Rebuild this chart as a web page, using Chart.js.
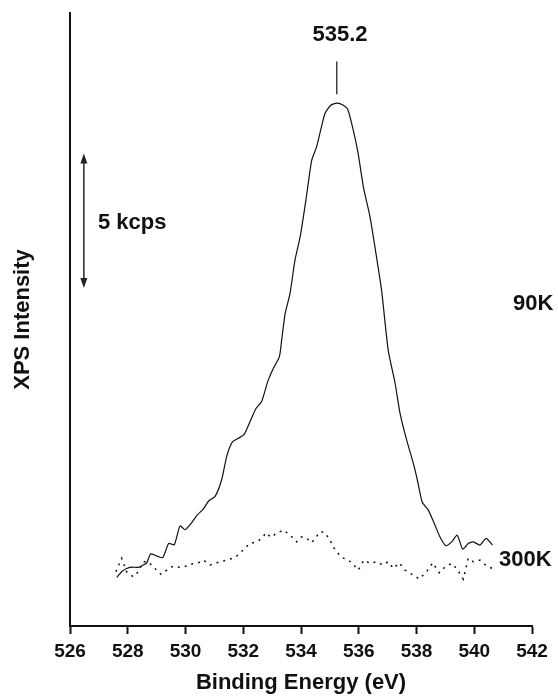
<!DOCTYPE html>
<html>
<head>
<meta charset="utf-8">
<script src="https://cdn.jsdelivr.net/npm/chart.js@4"></script>
<style>
    body { margin: 0; background: #fff; }
    canvas { display: block; }
</style>
</head>
<body>
<canvas id="myChart" width="558" height="698"></canvas>
<script>
// binding energy (eV) and intensity (kcps, arbitrary offset)
const energy90 = [527.62, 527.79, 527.96, 528.14, 528.37, 528.54, 528.66, 528.79, 529.00, 529.21,
    529.42, 529.61, 529.81, 529.99, 530.21, 530.41, 530.62, 530.81, 531.02, 531.25,
    531.43, 531.62, 531.83, 532.03, 532.23, 532.43, 532.64, 532.85, 533.04, 533.25,
    533.33, 533.45, 533.62, 533.79, 533.97, 534.17, 534.37, 534.54, 534.68, 534.83,
    535.03, 535.24, 535.44, 535.62, 535.81, 535.98, 536.16, 536.39, 536.56, 536.79,
    537.02, 537.26, 537.43, 537.66, 537.89, 538.03, 538.20, 538.41, 538.64, 538.81,
    539.01, 539.22, 539.41, 539.60, 539.79, 539.97, 540.20, 540.41, 540.63];
const counts90 = [1.81, 2.02, 2.14, 2.19, 2.18, 2.27, 2.35, 2.68, 2.61, 2.54,
    3.07, 3.02, 3.72, 3.58, 3.84, 4.13, 4.36, 4.66, 4.81, 5.43,
    6.32, 6.84, 6.98, 7.13, 7.59, 8.07, 8.36, 9.10, 9.58, 10.01,
    10.63, 11.62, 12.37, 13.60, 14.47, 15.84, 17.32, 17.82, 18.44, 19.06,
    19.37, 19.45, 19.39, 19.21, 18.44, 17.57, 16.33, 15.22, 14.10, 12.49,
    10.26, 9.02, 7.91, 6.91, 6.05, 5.43, 4.60, 4.31, 3.75, 3.32,
    2.99, 3.13, 3.38, 2.86, 3.07, 3.13, 3.01, 3.26, 3.01];

const energy300 = [527.59, 527.79, 527.96, 528.19, 528.37, 528.54, 528.71, 528.94, 529.15, 529.35,
    529.58, 529.81, 530.04, 530.27, 530.44, 530.62, 530.85, 531.08, 531.31, 531.54,
    531.77, 532.00, 532.23, 532.47, 532.64, 532.79, 532.95, 533.16, 533.39, 533.62,
    533.85, 534.02, 534.20, 534.37, 534.52, 534.66, 534.83, 535.00, 535.18, 535.41,
    535.64, 535.81, 535.98, 536.18, 536.39, 536.62, 536.83, 537.02, 537.20, 537.40,
    537.60, 537.83, 538.10, 538.35, 538.56, 538.79, 538.99, 539.22, 539.41, 539.62,
    539.79, 539.97, 540.20, 540.43, 540.63];
const counts300 = [2.02, 2.52, 2.02, 1.83, 2.02, 2.39, 2.39, 2.14, 1.92, 2.08,
    2.23, 2.18, 2.23, 2.33, 2.35, 2.45, 2.27, 2.35, 2.42, 2.48,
    2.60, 2.83, 3.07, 3.13, 3.26, 3.47, 3.30, 3.45, 3.57, 3.38,
    3.13, 3.32, 3.26, 3.10, 3.30, 3.51, 3.47, 3.20, 2.83, 2.55,
    2.45, 2.30, 2.08, 2.45, 2.33, 2.39, 2.27, 2.39, 2.14, 2.35,
    2.08, 1.93, 1.75, 2.02, 2.35, 1.98, 2.20, 2.33, 2.11, 1.74,
    2.52, 2.39, 2.45, 2.23, 2.14];

const xTicks = [526, 528, 530, 532, 534, 536, 538, 540, 542];

const peakEnergy = 535.2;
const scaleBar = 5; // kcps

const FONT = 'Liberation Sans, Arial, Helvetica, sans-serif';
const INK = '#111';

const annotations = {
    id: 'annotations',
    afterDraw(chart) {
        const { ctx, scales: { x, y } } = chart;
        ctx.save();
        ctx.fillStyle = INK;
        ctx.strokeStyle = INK;
        ctx.font = 'bold 22px ' + FONT;
        ctx.textBaseline = 'middle';

        // peak label + leader line
        const px = x.getPixelForValue(535.24);
        ctx.lineWidth = 1.2;
        ctx.beginPath();
        ctx.moveTo(px, y.getPixelForValue(21.0));
        ctx.lineTo(px, y.getPixelForValue(19.78));
        ctx.stroke();
        ctx.textAlign = 'center';
        ctx.fillText(peakEnergy.toFixed(1), x.getPixelForValue(535.35), y.getPixelForValue(22.0));

        // series labels
        ctx.textAlign = 'left';
        ctx.fillText('90K', x.getPixelForValue(541.34), y.getPixelForValue(11.97));
        ctx.fillText('300K', x.getPixelForValue(540.86), y.getPixelForValue(2.45));

        // scale bar
        const ax = x.getPixelForValue(526.48);
        const y0 = y.getPixelForValue(12.57);
        const y1 = y.getPixelForValue(12.57 + scaleBar);
        ctx.strokeStyle = '#333';
        ctx.fillStyle = '#222';
        ctx.lineWidth = 1.6;
        ctx.beginPath();
        ctx.moveTo(ax, y0 - 6);
        ctx.lineTo(ax, y1 + 6);
        ctx.stroke();
        ctx.beginPath();
        ctx.moveTo(ax, y1);
        ctx.lineTo(ax - 3.5, y1 + 10);
        ctx.lineTo(ax + 3.5, y1 + 10);
        ctx.closePath();
        ctx.fill();
        ctx.beginPath();
        ctx.moveTo(ax, y0);
        ctx.lineTo(ax - 3.5, y0 - 10);
        ctx.lineTo(ax + 3.5, y0 - 10);
        ctx.closePath();
        ctx.fill();

        ctx.fillStyle = INK;
        ctx.fillText(scaleBar + ' kcps', x.getPixelForValue(526.97), y.getPixelForValue(15.0));
        ctx.restore();
    }
};

var ctx = document.getElementById('myChart').getContext('2d');

var myChart = new Chart(ctx, { //eslint-disable-line
    type: 'line',
    data: {
        datasets: [
            {
                label: '90K',
                data: energy90.map((e, i) => ({ x: e, y: counts90[i] })),
                borderColor: INK,
                borderWidth: 1.2,
                pointRadius: 0,
                tension: 0.2,
                fill: false
            },
            {
                label: '300K',
                data: energy300.map((e, i) => ({ x: e, y: counts300[i] })),
                borderColor: INK,
                borderWidth: 1.5,
                borderDash: [2, 5],
                pointRadius: 0,
                tension: 0,
                fill: false
            }
        ]
    },
    options: {
        responsive: false,
        animation: false,
        layout: { padding: { top: 13, right: 26, left: 0, bottom: 0 } },
        plugins: {
            legend: { display: false },
            tooltip: { enabled: false }
        },
        scales: {
            x: {
                type: 'linear',
                min: 526,
                max: 542,
                afterBuildTicks: (scale) => { scale.ticks = xTicks.map(v => ({ value: v })); },
                afterFit: (scale) => { scale.height = 72; },
                grid: {
                    display: true,
                    drawOnChartArea: false,
                    drawTicks: true,
                    tickLength: 8,
                    tickWidth: 2,
                    tickColor: INK
                },
                border: { display: true, color: INK, width: 2 },
                ticks: {
                    color: INK,
                    padding: 6,
                    maxRotation: 0,
                    autoSkip: false,
                    font: { family: FONT, size: 19, weight: 'bold' }
                },
                title: {
                    display: true,
                    text: 'Binding Energy (eV)',
                    color: INK,
                    padding: { top: 2, bottom: 2 },
                    font: { family: FONT, size: 22, weight: 'bold' }
                }
            },
            y: {
                min: 0,
                max: 22.8,
                afterFit: (scale) => { scale.width = 70; },
                grid: { display: false },
                border: { display: true, color: INK, width: 2 },
                ticks: { display: false },
                title: {
                    display: true,
                    text: 'XPS Intensity',
                    color: INK,
                    padding: { top: 10, bottom: 10 },
                    font: { family: FONT, size: 22, weight: 'bold' }
                }
            }
        }
    },
    plugins: [annotations]
});
</script>
</body>
</html>
